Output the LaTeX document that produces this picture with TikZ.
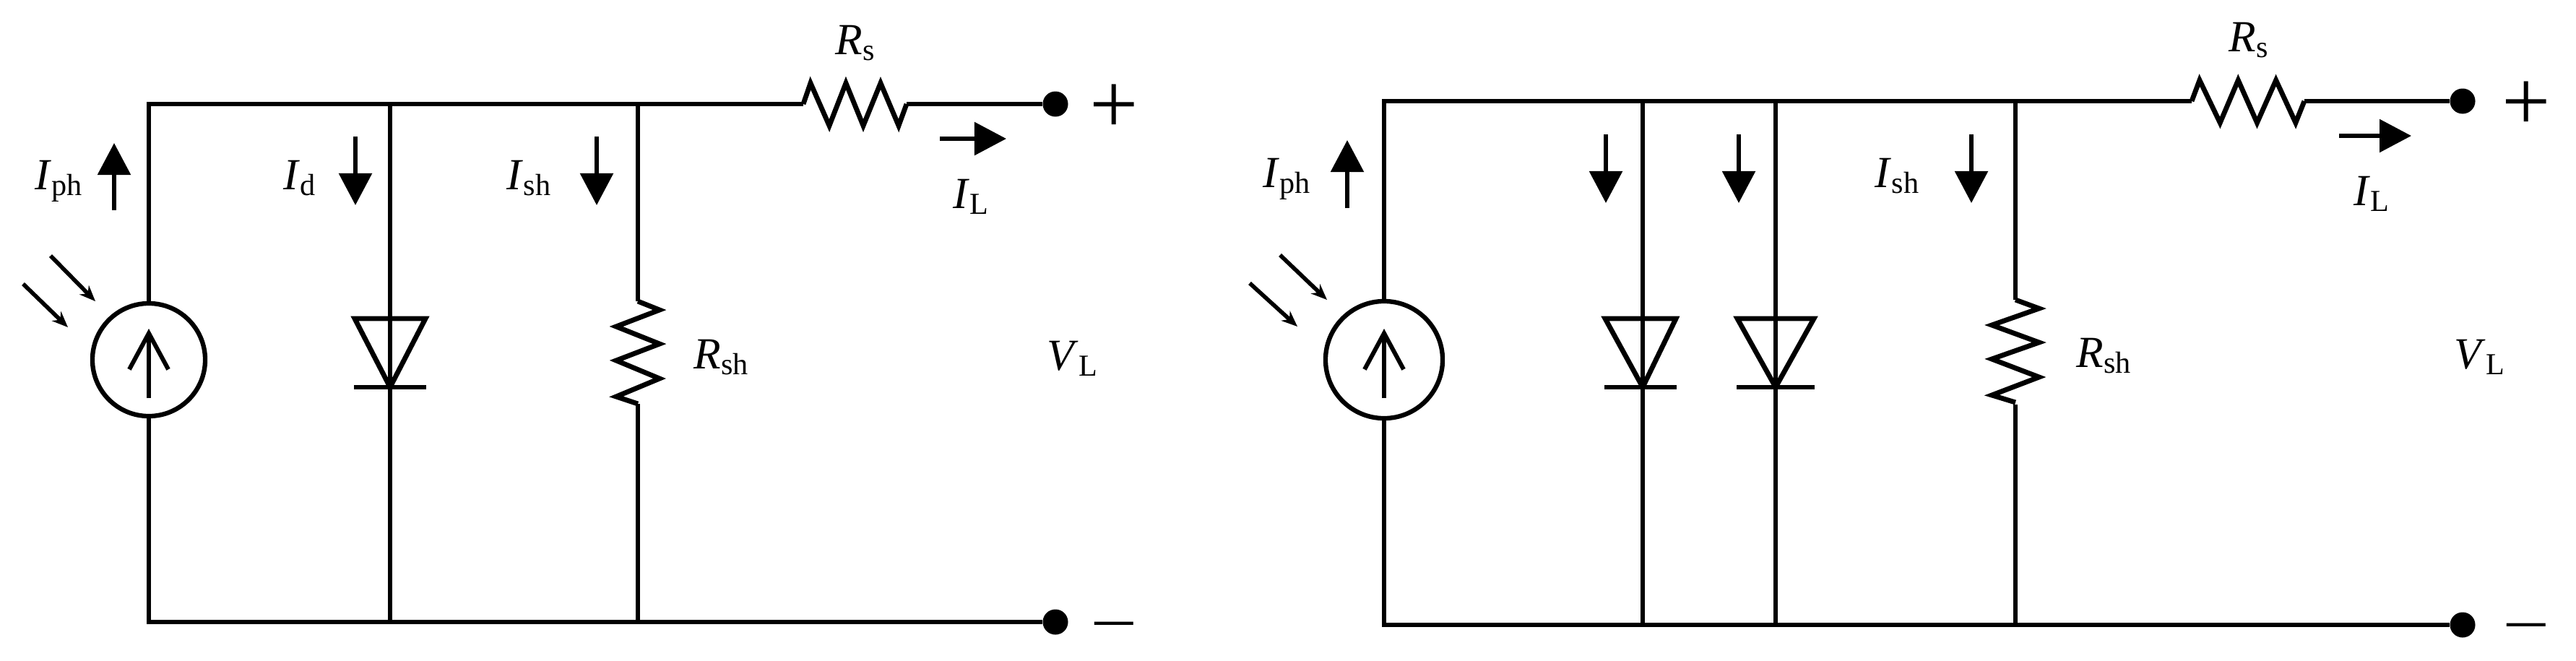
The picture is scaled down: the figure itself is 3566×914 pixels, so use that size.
\documentclass[tikz,border=0pt]{standalone}
\usepackage{fontspec}
\setmainfont{Liberation Serif}
\usetikzlibrary{arrows.meta}

\newcommand{\curlab}[2]{\textit{#1}\raisebox{-2.3pt}{\fontsize{12}{12}\selectfont #2}}

\tikzset{
    wire/.style={line width=1.95pt,line join=miter},
    curarrow/.style={line width=1.6pt,-{Triangle[length=0.44cm,width=0.45cm]}},
    lightarrow/.style={line width=1.6pt,-{Stealth[length=0.22cm,width=0.18cm]}},
    inarrow/.style={line width=1.7pt,-{Straight Barb[length=0.5cm,width=0.54cm]}},
    source/.style={draw,circle,line width=1.8pt,inner sep=0pt,minimum size=1.56cm},
    terminal/.style={circle,fill,inner sep=0pt,minimum size=0.35cm},
    lab/.style={inner sep=0pt,anchor=base west,font=\fontsize{17.5}{20}\selectfont},
    plussign/.style={inner sep=0pt,font=\fontsize{34}{36}\selectfont},
    minussign/.style={inner sep=0pt,anchor=base,font=\fontsize{25}{27}\selectfont},
    pics/seriesres/.style={code={
        \draw[wire] (0,0)--(10,-29)--(36,30)--(59,-29)--(83,30)--(107,-29)--(132,30)--(143,0);
    }},
    pics/shuntres/.style={code={
        \draw[wire] (0,0)--(30,12)--(-30,35)--(30,59)--(-30,82)--(30,107)--(-30,132)--(0,142);
    }},
    pics/diode/.style 2 args={code={
        \draw[wire] (-#1,0)--(#2,0)--(0,95)--cycle;
        \draw[wire] (-#1-1,95)--(#2+1,95);
    }}
}

\begin{document}
\begin{tikzpicture}[x=0.01cm,y=-0.01cm]
    \useasboundingbox (0,0) rectangle (3566,914);

    % left circuit
    \node[source] (srcL) at (206,498) {};
    \node[terminal] (plusL) at (1461,144) {};
    \node[terminal] (minusL) at (1461,861) {};
    \coordinate (topL) at (206,144);
    \coordinate (botL) at (206,861);
    \coordinate (rsaL) at (1112,144);
    \coordinate (rsbL) at (1255,144);
    \coordinate (diodeL) at (540,441);
    \coordinate (shaL) at (883,417);
    \coordinate (shbL) at (883,559);
    \coordinate (intopL) at (206,551);
    \coordinate (inbotL) at (206,455);

    \draw[wire] (srcL.north) -- (topL) -- (rsaL);
    \draw[wire] (rsbL) -- (plusL);
    \draw[wire] (srcL.south) -- (botL) -- (minusL);
    \pic at (rsaL) {seriesres};
    \pic at (shaL) {shuntres};
    \pic at (diodeL) {diode={49}{49}};
    \draw[inarrow] (intopL) -- (inbotL);

    \coordinate (dtopL) at (540,144);
    \coordinate (dbotL) at (540,861);
    \coordinate (shtopL) at (883,144);
    \coordinate (shbotL) at (883,861);
    \draw[wire] (dtopL) -- (dbotL);
    \draw[wire] (shtopL) -- (shaL);
    \draw[wire] (shbL) -- (shbotL);

    \foreach \name/\xa/\ya/\xb/\yb in {iphL/158/291/158/198, idL/492/189/492/284,
        ishL/826/189/826/284, ilL/1301/192/1393/192}{
        \coordinate (\name a) at (\xa,\ya);
        \coordinate (\name b) at (\xb,\yb);
        \draw[curarrow] (\name a) -- (\name b);
    };
    \foreach \name/\xa/\ya/\xb/\yb in {sunaL/70/354/132/417, sunbL/32/393/94/453}{
        \coordinate (\name a) at (\xa,\ya);
        \coordinate (\name b) at (\xb,\yb);
        \draw[lightarrow] (\name a) -- (\name b);
    };

    \node[lab] (iphlabL) at (48,262) {\curlab{I}{ph}};
    \node[lab] (idlabL) at (392,262) {\curlab{I}{d}};
    \node[lab] (ishlabL) at (701,262) {\curlab{I}{sh}};
    \node[lab] (rshlabL) at (960,510) {\curlab{R}{sh}};
    \node[lab] (rslabL) at (1156,75) {\curlab{R}{s}};
    \node[lab] (illabL) at (1319,288) {\curlab{I}{L}};
    \node[lab] (vllabL) at (1449,512) {\curlab{V}{L}};
    \node[plussign] (psignL) at (1542,151) {+};
    \node[minussign] (msignL) at (1542,892) {\scalebox{1.32}[1]{\symbol{"2212}}};

    % right circuit
    \node[source,minimum size=1.62cm] (srcR) at (1916,498) {};
    \node[terminal] (plusR) at (3409,140) {};
    \node[terminal] (minusR) at (3409,865) {};
    \coordinate (topR) at (1916,140);
    \coordinate (botR) at (1916,865);
    \coordinate (rsaR) at (3034,140);
    \coordinate (rsbR) at (3190,140);
    \coordinate (diodeaR) at (2274,441);
    \coordinate (diodebR) at (2458,441);
    \coordinate (shaR) at (2790,415);
    \coordinate (shbR) at (2790,560);
    \coordinate (intopR) at (1916,551);
    \coordinate (inbotR) at (1916,455);

    \draw[wire] (srcR.north) -- (topR) -- (rsaR);
    \draw[wire] (rsbR) -- (plusR);
    \draw[wire] (srcR.south) -- (botR) -- (minusR);
    \pic[xscale=1.09] at (rsaR) {seriesres};
    \pic[xscale=1.09] at (shaR) {shuntres};
    \pic at (diodeaR) {diode={52}{46}};
    \pic at (diodebR) {diode={53}{53}};
    \draw[inarrow] (intopR) -- (inbotR);

    \foreach \name/\x in {daR/2274, dbR/2458}{
        \coordinate (\name top) at (\x,140);
        \coordinate (\name bot) at (\x,865);
        \draw[wire] (\name top) -- (\name bot);
    };
    \coordinate (shtopR) at (2790,140);
    \coordinate (shbotR) at (2790,865);
    \draw[wire] (shtopR) -- (shaR);
    \draw[wire] (shbR) -- (shbotR);

    \foreach \name/\xa/\ya/\xb/\yb in {iphR/1865/288/1865/194, idaR/2223/186/2223/281,
        idbR/2407/186/2407/281, ishR/2729/186/2729/281, ilR/3238/188/3338/188}{
        \coordinate (\name a) at (\xa,\ya);
        \coordinate (\name b) at (\xb,\yb);
        \draw[curarrow] (\name a) -- (\name b);
    };
    \foreach \name/\xa/\ya/\xb/\yb in {sunaR/1772/353/1837/415, sunbR/1730/392/1796/452}{
        \coordinate (\name a) at (\xa,\ya);
        \coordinate (\name b) at (\xb,\yb);
        \draw[lightarrow] (\name a) -- (\name b);
    };

    \node[lab] (iphlabR) at (1748,259) {\curlab{I}{ph}};
    \node[lab] (ishlabR) at (2595,259) {\curlab{I}{sh}};
    \node[lab] (rshlabR) at (2874,508) {\curlab{R}{sh}};
    \node[lab] (rslabR) at (3085,71) {\curlab{R}{s}};
    \node[lab] (illabR) at (3258,284) {\curlab{I}{L}};
    \node[lab] (vllabR) at (3397,510) {\curlab{V}{L}};
    \node[plussign] (psignR) at (3497,147) {+};
    \node[minussign] (msignR) at (3497,894) {\scalebox{1.32}[1]{\symbol{"2212}}};
\end{tikzpicture}
\end{document}
